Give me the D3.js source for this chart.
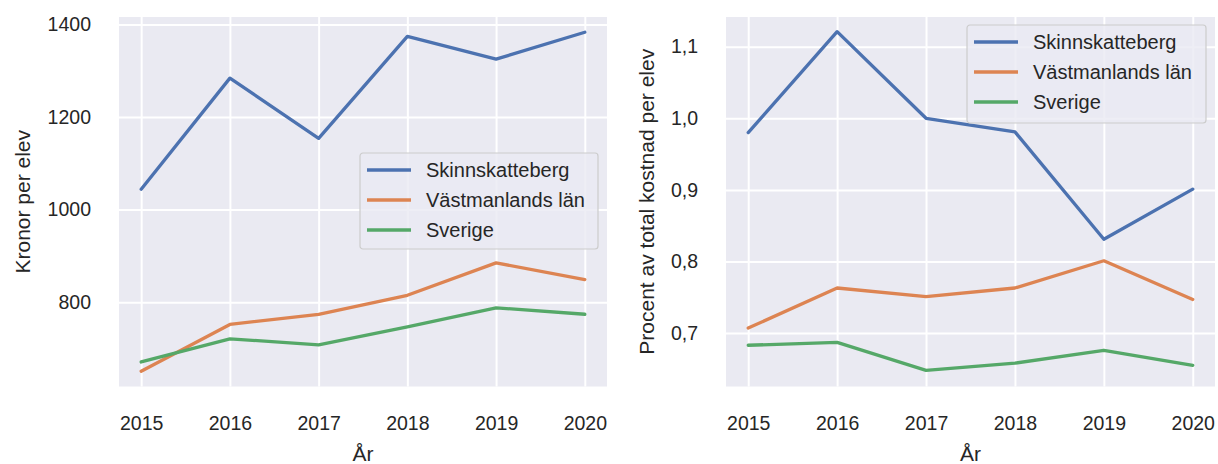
<!DOCTYPE html>
<html><head><meta charset="utf-8">
<script src="https://cdn.jsdelivr.net/npm/d3@7"></script>
<style>
body{margin:0;background:#fff;}
svg text{font-family:"Liberation Sans",Arial,sans-serif;fill:#262626;}
</style></head>
<body><svg id="c" width="1218" height="464"></svg>
<script>
const years = [2015, 2016, 2017, 2018, 2019, 2020];
const seriesNames = ["Skinnskatteberg", "Västmanlands län", "Sverige"];
const colors = ["#4c72b0", "#dd8452", "#55a868"];

// Left: Kronor per elev
const kronorSkinnskatteberg = [1044, 1284, 1154, 1374, 1325, 1383];
const kronorVastmanland = [651, 752, 774, 815, 885, 849];
const kronorSverige = [671, 721, 708, 747, 788, 774];
const kronorTicks = [800, 1000, 1200, 1400];
const kronorDomain = [618, 1416];

// Right: Procent av total kostnad per elev
const procentSkinnskatteberg = [0.980, 1.121, 1.000, 0.981, 0.831, 0.901];
const procentVastmanland = [0.707, 0.763, 0.751, 0.763, 0.801, 0.747];
const procentSverige = [0.683, 0.687, 0.648, 0.658, 0.676, 0.655];
const procentTicks = [0.7, 0.8, 0.9, 1.0, 1.1];
const procentDomain = [0.6254, 1.1415];

const svg = d3.select("#c");
const plotTop = 17, plotBottom = 386.5;

function panel(opts) {
  const {x0, x1, series, ticks, domain, fmt, ylabel, ylabelX, legend} = opts;
  const x = d3.scaleLinear().domain([2014.75, 2020.25]).range([x0, x1]);
  const y = d3.scaleLinear().domain(domain).range([plotBottom, plotTop]);
  const g = svg.append("g");
  g.append("rect").attr("x", x0).attr("y", plotTop).attr("width", x1 - x0).attr("height", plotBottom - plotTop).attr("fill", "#eaeaf2");
  const gx = g.append("g").attr("transform", `translate(0,${plotBottom})`)
    .call(d3.axisBottom(x).tickValues(years).tickFormat(d3.format("d")).tickSize(-(plotBottom - plotTop)).tickPadding(30));
  const gy = g.append("g").attr("transform", `translate(${x0},0)`)
    .call(d3.axisLeft(y).tickValues(ticks).tickFormat(fmt).tickSize(-(x1 - x0)).tickPadding(28));
  [gx, gy].forEach(a => {
    a.select(".domain").remove();
    a.selectAll(".tick line").attr("stroke", "#fff").attr("stroke-width", 2);
    a.selectAll(".tick text").style("font-size", "19.5px").attr("fill", "#262626");
  });
  gx.selectAll(".tick text").attr("dy", "0.71em");
  const line = d3.line().x((d, i) => x(years[i])).y(d => y(d));
  series.forEach((s, i) => {
    g.append("path").datum(s).attr("d", line).attr("fill", "none")
      .attr("stroke", colors[i]).attr("stroke-width", 3.3).attr("stroke-linecap", "round").attr("stroke-linejoin", "round");
  });
  g.append("text").attr("x", (x0 + x1) / 2).attr("y", 461).attr("text-anchor", "middle").style("font-size", "21px").text("År");
  g.append("text").attr("transform", `translate(${ylabelX},${(plotTop + plotBottom) / 2}) rotate(-90)`)
    .attr("text-anchor", "middle").attr("dy", "0.35em").style("font-size", "21px").text(ylabel);
  const L = legend;
  const lg = g.append("g").attr("transform", `translate(${L.x},${L.y})`);
  lg.append("rect").attr("x", 0).attr("y", 0).attr("width", L.w).attr("height", L.h).attr("rx", 3)
    .attr("fill", "#eaeaf2").attr("fill-opacity", 0.8).attr("stroke", "#cccccc").attr("stroke-width", 1.2);
  seriesNames.forEach((n, i) => {
    const cy = 17 + i * 30;
    lg.append("line").attr("x1", 7).attr("x2", 51).attr("y1", cy).attr("y2", cy)
      .attr("stroke", colors[i]).attr("stroke-width", 3.3);
    lg.append("text").attr("x", 66).attr("y", cy).attr("dy", "0.36em").style("font-size", "20px").text(n);
  });
}

const commaFmt = d => d3.format(".1f")(d).replace(".", ",");

panel({x0: 119, x1: 607, series: [kronorSkinnskatteberg, kronorVastmanland, kronorSverige],
  ticks: kronorTicks, domain: kronorDomain, fmt: d3.format("d"), ylabel: "Kronor per elev", ylabelX: 23,
  legend: {x: 360, y: 153, w: 238, h: 96}});
panel({x0: 726, x1: 1215, series: [procentSkinnskatteberg, procentVastmanland, procentSverige],
  ticks: procentTicks, domain: procentDomain, fmt: commaFmt, ylabel: "Procent av total kostnad per elev", ylabelX: 647,
  legend: {x: 967, y: 25, w: 239, h: 98}});
</script></body></html>
